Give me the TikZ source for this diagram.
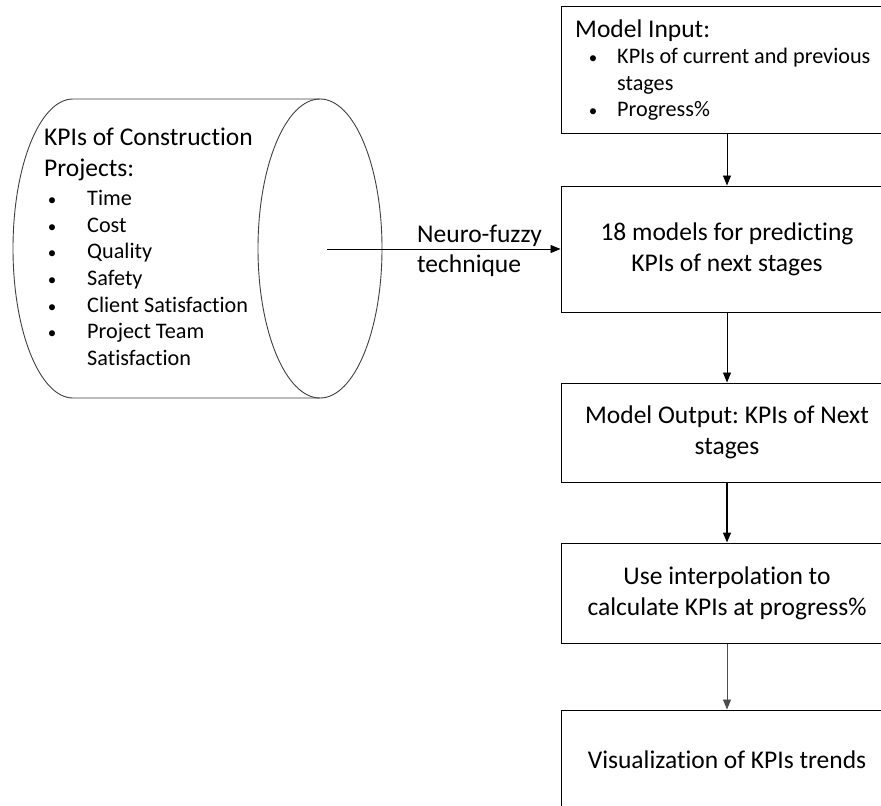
\documentclass[tikz,border=0pt]{standalone}
\usepackage{fontspec}
\setmainfont{Carlito}[Ligatures=CommonOff]
\usetikzlibrary{arrows.meta}
\frenchspacing
\newcommand\mainsize{\fontsize{25.5pt}{31pt}\selectfont}
\newcommand\itemsize{\fontsize{22.2pt}{26.7pt}\selectfont}
\newcommand\dotsize{\fontsize{17pt}{20pt}\selectfont}
\tikzset{
  flowbox/.style={draw, line width=1pt, minimum width=332pt, inner sep=0pt,
                  align=center, font=\mainsize},
  arr/.style={-{Triangle[length=10pt,width=8pt]}, line width=0.9pt},
  txt/.style={anchor=base west, inner sep=0pt, font=\mainsize},
  itm/.style={anchor=base west, inner sep=0pt, font=\itemsize},
  dot/.style={anchor=base, inner sep=0pt, font=\dotsize},
  cyl/.style={draw=black!75, line width=0.9pt},
}
\begin{document}
\begin{tikzpicture}[x=1pt,y=-1pt]
\useasboundingbox (0,0) rectangle (881,806);
\clip (0,0) rectangle (881,806);

% data store: horizontal cylinder
\draw[cyl] (320,99) -- (73,99) arc[start angle=270, end angle=90, x radius=60, y radius=149.5] -- (320,398);
\draw[cyl] (320,248.5) ellipse [x radius=62, y radius=149.5];
\coordinate (dbc) at (327,249);

% cylinder text
\node[txt] (dbh1) at (44,145) {KPIs of Construction};
\node[txt] (dbh2) at (44,176) {Projects:};
\foreach \y/\t [count=\i] in {205/Time, 232/Cost, 258.5/Quality, 285/Safety,
                              312/Client Satisfaction, 338.5/Project Team} {
  \node[dot] (dbb\i) at (52,\y) {\textbullet};
  \node[itm] (dbt\i) at (87,\y) {\t};
}
\node[itm] (dbt7) at (87,365) {Satisfaction};

% flow boxes
\node[flowbox, minimum height=127pt] (input) at (727,69.5) {};
\node[flowbox, minimum height=126pt] (models) at (727,249)
  {18 models for predicting\\KPIs of next stages};
\node[flowbox, minimum height=99pt] (output) at (727,432.5)
  {Model Output: KPIs of Next\\stages};
\node[flowbox, minimum height=100pt] (interp) at (727,593)
  {Use interpolation to\\calculate KPIs at progress\%};
\node[flowbox, minimum height=100pt] (visual) at (727,760)
  {Visualization of KPIs trends};

% model input text
\node[txt] (inh) at (575,37.5) {Model Input:};
\node[dot] (inb1) at (593,63.5) {\textbullet};
\node[itm] (int1) at (617,63.5) {KPIs of current and previous};
\node[itm] (int2) at (617,90) {stages};
\node[dot] (inb2) at (593,116.5) {\textbullet};
\node[itm] (int3) at (617,116.5) {Progress\%};

% connectors
\draw[arr] (dbc) -- (models.west);
\node[txt] (nf1) at (417,242) {Neuro-fuzzy};
\node[txt] (nf2) at (417,272) {technique};
\draw[arr] (input.south) -- (models.north);
\draw[arr] (models.south) -- (output.north);
\draw[arr, line width=1.5pt] (output.south) -- (interp.north);
\draw[arr, draw=black!70, fill=black] (interp.south) -- (visual.north);
\end{tikzpicture}
\end{document}
